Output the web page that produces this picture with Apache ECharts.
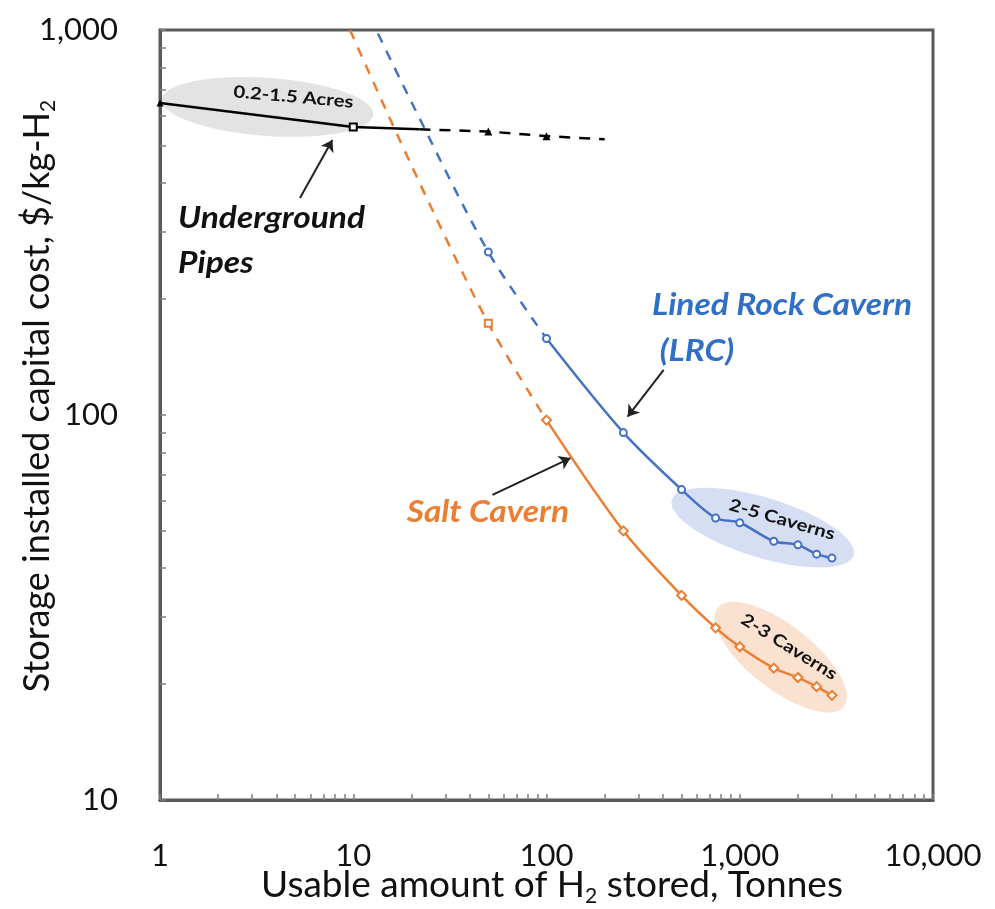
<!DOCTYPE html>
<html>
<head>
<meta charset="utf-8">
<script src="https://cdn.jsdelivr.net/npm/echarts@6/dist/echarts.min.js"></script>
<style>
    html, body { margin: 0; padding: 0; background: #fff; }
    #chart { width: 995px; height: 909px; }
</style>
</head>
<body>
<div id="chart"></div>
<script>
// tick labels
const xTicks = [1, 10, 100, 1000, 10000];
const yTicks = [10, 100, 1000];

// underground pipes
const pipeSolidX = [1, 10, 22];
const pipeSolidY = [646, 560, 552];
const pipeSolidMarks = ['triangle', 'emptyRect', 'none'];
const pipeDashX = [22, 50, 100, 200];
const pipeDashY = [552, 545, 530, 520];
const pipeDashMarks = ['none', 'triangle', 'triangle', 'none'];

// lined rock cavern
const lrcDashX = [10, 20, 50, 100];
const lrcDashY = [1330, 650, 265, 158];
const lrcDashMarks = ['none', 'none', 'emptyCircle', 'none'];
const lrcX = [100, 250, 500, 750, 1000, 1500, 2000, 2500, 3000];
const lrcY = [158, 90, 64, 54, 52.5, 47, 46, 43.5, 42.5];

// salt cavern
const saltDashX = [8, 20, 50, 100];
const saltDashY = [1230, 445, 173, 97];
const saltDashMarks = ['none', 'none', 'emptyRect', 'none'];
const saltX = [100, 250, 500, 750, 1000, 1500, 2000, 2500, 3000];
const saltY = [97, 50, 34, 28, 25, 22, 20.8, 19.7, 18.7];

const BLUE = '#4472C4';
const ORANGE = '#ED7D31';
const FONT = 'Lato';

function minorTicks(lo, hi) {
    const out = [];
    for (let d = lo; d < hi; d *= 10) {
        for (let k = 1; k < 10; k++) out.push(d * k);
    }
    out.push(hi);
    return out;
}

function pts(xs, ys, marks) {
    return xs.map((x, i) => {
        const item = { value: [x, ys[i]] };
        if (marks) item.symbol = marks[i];
        return item;
    });
}

function fmt(v) {
    return Number(v).toLocaleString('en-US');
}

const chart = echarts.init(document.getElementById('chart'));

const axisLineStyle = { color: '#595959', width: 3 };

const option = {
    animation: false,
    backgroundColor: '#fff',
    grid: {
        left: 160, right: 62, top: 30, bottom: 109,
        containLabel: false, outerBoundsMode: 'none',
        show: true, borderColor: '#595959', borderWidth: 3
    },
    xAxis: {
        type: 'log', logBase: 10, min: 1, max: 10000,
        axisLine: { lineStyle: axisLineStyle },
        axisTick: { show: true, inside: true, length: 6, customValues: minorTicks(1, 10000), lineStyle: { color: '#7f7f7f', width: 1.5 } },
        minorTick: { show: false },
        splitLine: { show: false },
        axisLabel: {
            customValues: xTicks, formatter: fmt, margin: 40,
            fontFamily: FONT, fontSize: 31, color: '#111'
        }
    },
    yAxis: {
        type: 'log', logBase: 10, min: 10, max: 1000,
        axisLine: { lineStyle: axisLineStyle },
        axisTick: { show: true, inside: true, length: 6, customValues: minorTicks(10, 1000), lineStyle: { color: '#7f7f7f', width: 1.5 } },
        minorTick: { show: false },
        splitLine: { show: false },
        axisLabel: {
            customValues: yTicks, formatter: fmt, margin: 42,
            fontFamily: FONT, fontSize: 31, color: '#111'
        }
    },
    series: [
        {
            name: 'Pipes', type: 'line', data: pts(pipeSolidX, pipeSolidY, pipeSolidMarks),
            symbolSize: 7, itemStyle: { color: '#000', borderWidth: 1.5 },
            lineStyle: { color: '#000', width: 2.5 }, z: 5,
            markLine: {
                silent: true, symbol: ['none', 'arrow'], symbolSize: 11,
                label: { show: false },
                lineStyle: { color: '#222', width: 2, type: 'solid' },
                data: [
                    [{ coord: [5.3, 366] }, { coord: [7.8, 518] }],
                    [{ coord: [404, 131] }, { coord: [263, 99] }],
                    [{ coord: [52.5, 62] }, { coord: [133, 77.3] }]
                ]
            }
        },
        {
            name: 'Pipes extrapolated', type: 'line', data: pts(pipeDashX, pipeDashY, pipeDashMarks),
            symbolSize: 8, itemStyle: { color: '#000' },
            lineStyle: { color: '#000', width: 2.5, type: [11, 9] }, z: 5
        },
        {
            name: 'LRC extrapolated', type: 'line', data: pts(lrcDashX, lrcDashY, lrcDashMarks),
            smooth: 0.3, symbolSize: 7, itemStyle: { color: BLUE, borderWidth: 1.5 },
            lineStyle: { color: BLUE, width: 2.5, type: [10, 9] }, z: 4
        },
        {
            name: 'Lined Rock Cavern', type: 'line', data: pts(lrcX, lrcY),
            smooth: 0.3, symbol: 'emptyCircle', symbolSize: 7,
            itemStyle: { color: BLUE, borderWidth: 1.5 },
            lineStyle: { color: BLUE, width: 2.5 }, z: 4
        },
        {
            name: 'Salt extrapolated', type: 'line', data: pts(saltDashX, saltDashY, saltDashMarks),
            smooth: 0.3, symbolSize: 7, itemStyle: { color: ORANGE, borderWidth: 1.5 },
            lineStyle: { color: ORANGE, width: 2.5, type: [10, 9] }, z: 4
        },
        {
            name: 'Salt Cavern', type: 'line', data: pts(saltX, saltY),
            smooth: 0.3, symbol: 'emptyDiamond', symbolSize: 9,
            itemStyle: { color: ORANGE, borderWidth: 1.5 },
            lineStyle: { color: ORANGE, width: 2.5 }, z: 4
        }
    ]
};

chart.setOption(option);

// annotations anchored in data coordinates
const blobs = [
    { at: [3.6, 631], rx: 106, ry: 29, rot: -4, fill: '#e3e3e3' },
    { at: [1315, 51], rx: 95, ry: 30, rot: -17, fill: '#d5def2' },
    { at: [1630, 23.5], rx: 80, ry: 32, rot: -38, fill: '#fbe1cf' }
];

const notes = [
    { text: '0.2-1.5 Acres', at: [4.9, 670], size: 17, color: '#111', italic: false, rot: -5, align: 'center' },
    { text: 'Underground', at: [1.24, 325], size: 31, color: '#111', italic: true, rot: 0, align: 'left' },
    { text: 'Pipes', at: [1.24, 248], size: 31, color: '#111', italic: true, rot: 0, align: 'left' },
    { text: 'Lined Rock Cavern', at: [352, 193], size: 31, color: '#2F6FC6', italic: true, rot: 0, align: 'left' },
    { text: '(LRC)', at: [385, 147], size: 31, color: '#2F6FC6', italic: true, rot: 0, align: 'left' },
    { text: 'Salt Cavern', at: [18.9, 56], size: 31, color: ORANGE, italic: true, rot: 0, align: 'left' },
    { text: '2-5 Caverns', at: [1655, 53.5], size: 17, color: '#111', italic: false, rot: -16, align: 'center' },
    { text: '2-3 Caverns', at: [1800, 25], size: 17, color: '#111', italic: false, rot: -32, align: 'center' }
];

function toPx(p) {
    return chart.convertToPixel({ gridIndex: 0 }, p);
}

const graphics = [];
blobs.forEach(b => {
    const c = toPx(b.at);
    graphics.push({
        type: 'ellipse', x: c[0], y: c[1], rotation: b.rot * Math.PI / 180,
        shape: { cx: 0, cy: 0, rx: b.rx, ry: b.ry },
        style: { fill: b.fill }, z: -1, silent: true
    });
});
notes.forEach(n => {
    const c = toPx(n.at);
    graphics.push({
        type: 'text', x: c[0], y: c[1], rotation: n.rot * Math.PI / 180, z: 100, silent: true,
        scaleX: n.size > 20 ? 1.08 : 1.2,
        style: {
            text: n.text, fill: n.color, fontFamily: FONT, fontWeight: 'bold',
            fontStyle: n.italic ? 'italic' : 'normal', fontSize: n.size,
            textAlign: n.align, textVerticalAlign: 'middle'
        }
    });
});

// axis titles
const subStyle = { fontFamily: FONT, fontSize: 21, fill: '#111', verticalAlign: 'bottom', lineHeight: 44 };
graphics.push({
    type: 'text', x: 552, y: 885, silent: true,
    style: {
        text: 'Usable amount of H{sub|2} stored, Tonnes',
        fill: '#111', fontFamily: FONT, fontSize: 37, lineHeight: 44,
        textAlign: 'center', textVerticalAlign: 'middle',
        rich: { sub: subStyle }
    }
});
graphics.push({
    type: 'text', x: 37, y: 396, rotation: Math.PI / 2, silent: true,
    style: {
        text: 'Storage installed capital cost, $/kg-H{sub|2}',
        fill: '#111', fontFamily: FONT, fontSize: 36, lineHeight: 44,
        textAlign: 'center', textVerticalAlign: 'middle',
        rich: { sub: subStyle }
    }
});

chart.setOption({ graphic: graphics });
</script>
</body>
</html>
